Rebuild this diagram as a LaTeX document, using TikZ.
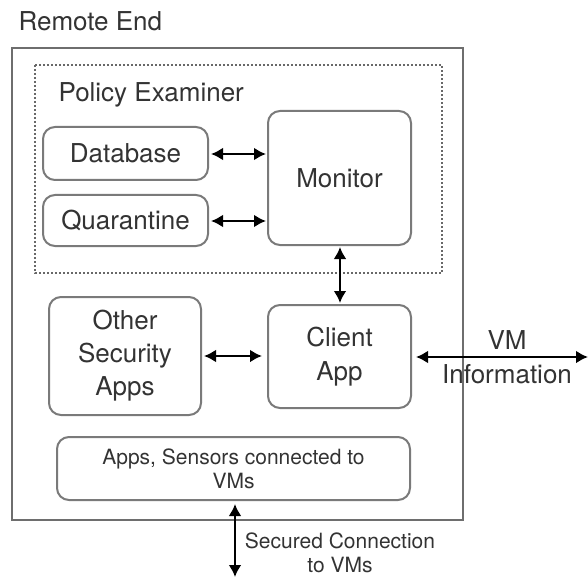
\documentclass[tikz,border=0pt]{standalone}
\usepackage{fontspec}
\setmainfont{TeX Gyre Heros}
\usetikzlibrary{arrows.meta}
\definecolor{txt}{HTML}{333333}
\definecolor{edge}{HTML}{7A7A7A}
\tikzset{
  big/.style={font=\fontsize{26}{34}\selectfont, text=txt},
  small/.style={font=\fontsize{21}{24}\selectfont, text=txt},
  roundbox/.style={draw=edge, line width=2pt, rounded corners=12pt, align=center, inner sep=0pt},
  link/.style={line width=2.8pt, {Latex[length=12pt,width=13pt]}-{Latex[length=12pt,width=13pt]}},
}
\begin{document}
\begin{tikzpicture}[x=1pt, y=-1pt]
\useasboundingbox (0,0) rectangle (588,577);

% outer frame and its title
\node[big, anchor=west] (title) at (15,21) {Remote End};
\draw[draw=edge!90!black, line width=2.4pt] (12,48) rectangle (463,520);

% policy examiner group
\draw[draw=edge!85!black, line width=2pt, dash pattern=on 2pt off 2pt] (35,65) rectangle (442,273);
\node[big, anchor=west] (pe) at (55,95) {Policy Examiner};

% components
\node[roundbox, big, minimum width=165pt, minimum height=53pt] (db) at (125.5,153.5) {Database};
\node[roundbox, big, minimum width=165pt, minimum height=51pt] (qu) at (125.5,220.5) {Quarantine};
\node[roundbox, big, minimum width=143pt, minimum height=134pt] (mon) at (339.5,178) {Monitor};
\node[roundbox, big, minimum width=152pt, minimum height=118pt, font=\fontsize{26}{33}\selectfont] (other) at (125,356) {Other\\Security\\Apps};
\node[roundbox, big, minimum width=143pt, minimum height=103pt] (client) at (339.5,356.5) {Client\\App};
\node[roundbox, small, minimum width=353pt, minimum height=63pt] (sens) at (233.5,468.5) {Apps, Sensors connected to\\VMs};

% external end points
\coordinate (vmend) at (588,357);
\coordinate (vmsec) at (235,577);

% labels of external links
\node[big, align=center] (vmlbl) at (507,357) {VM\\Information};
\node[small, align=center] (seclbl) at (340,553) {Secured Connection\\to VMs};

% connectors
\draw[link, shorten <=2pt, shorten >=1pt] (db.east |- 0,154) -- (mon.west |- 0,154);
\draw[link, shorten <=2pt, shorten >=1pt] (qu.east |- 0,221) -- (mon.west |- 0,221);
\draw[link, shorten <=1pt, shorten >=1pt] (mon.south -| 340,0) -- (client.north -| 340,0);
\draw[link, shorten <=2pt, shorten >=5pt] (other.east |- 0,356) -- (client.west |- 0,356);
\draw[link, shorten <=4pt] (client.east |- vmend) -- (vmend);
\draw[link, shorten <=3pt] (sens.south -| vmsec) -- (vmsec);
\end{tikzpicture}
\end{document}
